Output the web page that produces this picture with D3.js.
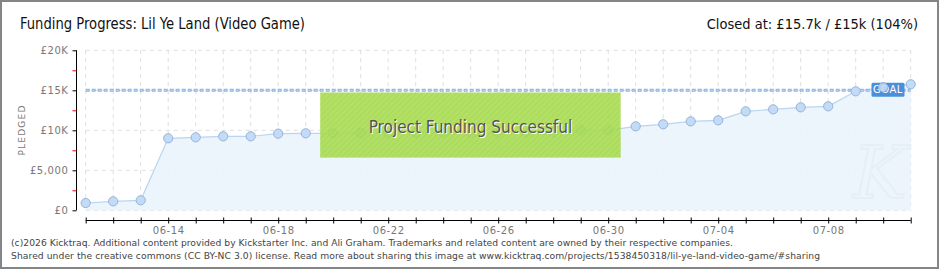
<!DOCTYPE html>
<html><head><meta charset="utf-8">
<script src="https://cdn.jsdelivr.net/npm/d3@7"></script>
<style>
html,body{margin:0;padding:0;background:#fff;}
svg{display:block;}
</style></head>
<body>
<svg id="chart" width="940" height="270"></svg>
<script>
// ---- data ----
const dates = ["06-11","06-12","06-13","06-14","06-15","06-16","06-17","06-18","06-19","06-20",
  "06-21","06-22","06-23","06-24","06-25","06-26","06-27","06-28","06-29","06-30",
  "07-01","07-02","07-03","07-04","07-05","07-06","07-07","07-08","07-09","07-10","07-11"];
const pledged = [910,1120,1250,9000,9120,9250,9250,9580,9620,9620,
  9700,9700,9700,9720,9620,9650,9700,9750,10000,10000,
  10500,10750,11120,11250,12370,12620,12870,13000,14870,15370,15750];
const goal = 15000;
const xTickLabels = ["06-14","06-18","06-22","06-26","06-30","07-04","07-08"];
const yTicks = [0,5000,10000,15000,20000];
const yTickLabels = ["£0","£5,000","£10K","£15K","£20K"];
const yMinorTicks = [2500,7500,12500,17500];
const title = "Funding Progress: Lil Ye Land (Video Game)";
const status = "Closed at: £15.7k / £15k (104%)";
const footer = ["(c)2026 Kicktraq. Additional content provided by Kickstarter Inc. and Ali Graham. Trademarks and related content are owned by their respective companies.",
  "Shared under the creative commons (CC BY-NC 3.0) license. Read more about sharing this image at www.kicktraq.com/projects/1538450318/lil-ye-land-video-game/#sharing"];

// ---- setup ----
const svg = d3.select("#chart");
const parse = s => new Date(Date.UTC(2026, +s.slice(0,2)-1, +s.slice(3,5)));
const data = dates.map((d,i)=>({date:parse(d), v:pledged[i]}));
const x = d3.scaleUtc().domain([data[0].date, data[data.length-1].date]).range([85.7, 910.7]);
const y = d3.scaleLinear().domain([0,20000]).range([210.3, 50.3]);
const fmt = d3.utcFormat("%m-%d");

// border
svg.append("rect").attr("x",1).attr("y",1).attr("width",937).attr("height",267)
  .attr("fill","#fff").attr("stroke","#858585").attr("stroke-width",2);

// defs: hatch pattern
const defs = svg.append("defs");
const pat = defs.append("pattern").attr("id","hatch").attr("width",4).attr("height",4)
  .attr("patternUnits","userSpaceOnUse").attr("patternTransform","rotate(45)");
pat.append("rect").attr("width",4).attr("height",4).attr("fill","#a9dd52");
pat.append("line").attr("x1",0).attr("y1",0).attr("x2",0).attr("y2",4)
  .attr("stroke","#9fd14a").attr("stroke-width",1.5);

// title
svg.append("text").attr("x",20).attr("y",29).text(title)
  .attr("font-family","'DejaVu Sans Condensed','Liberation Sans Narrow',sans-serif")
  .attr("font-size",15).attr("fill","#111")
  .attr("textLength",285).attr("lengthAdjust","spacingAndGlyphs");
svg.append("text").attr("x",918).attr("y",29).attr("text-anchor","end").text(status)
  .attr("font-family","'DejaVu Sans Condensed','Liberation Sans Narrow',sans-serif")
  .attr("font-size",14.5).attr("fill","#111");

// grid
const g = svg.append("g");
g.selectAll("line.vg").data(data).enter().append("line")
  .attr("x1",d=>x(d.date)).attr("x2",d=>x(d.date)).attr("y1",y(20000)).attr("y2",y(0))
  .attr("stroke","#dedede").attr("stroke-dasharray","4,4");
g.selectAll("line.hg").data(yTicks).enter().append("line")
  .attr("x1",x(data[0].date)).attr("x2",x(data[data.length-1].date))
  .attr("y1",d=>y(d)).attr("y2",d=>y(d))
  .attr("stroke","#dedede").attr("stroke-dasharray","4,4");

// area
const area = d3.area().x(d=>x(d.date)).y0(y(0)).y1(d=>y(d.v));
g.append("path").datum(data).attr("d",area).attr("fill","#eaf3fc").attr("opacity",0.9);

// watermark
svg.append("text").attr("x",880).attr("y",198).attr("text-anchor","middle")
  .attr("font-family","'DejaVu Serif',serif").attr("font-style","italic")
  .attr("font-size",72).attr("fill","none").attr("stroke","#e6eef8").attr("stroke-width",2).text("K");

const line = d3.line().x(d=>x(d.date)).y(d=>y(d.v));
g.append("path").datum(data).attr("d",line).attr("fill","none").attr("stroke","#b9d5f2").attr("stroke-width",1.2);

// goal line
svg.append("line").attr("x1",x(data[0].date)).attr("x2",x(data[data.length-1].date))
  .attr("y1",y(goal)).attr("y2",y(goal))
  .attr("stroke","#8fb4df").attr("stroke-width",3).attr("stroke-dasharray","4,2");
svg.append("line").attr("x1",x(data[0].date)+1).attr("x2",x(data[data.length-1].date))
  .attr("y1",y(goal)).attr("y2",y(goal))
  .attr("stroke","#c4dbf4").attr("stroke-width",1).attr("stroke-dasharray","2,4");

// points
svg.selectAll("circle.pt").data(data).enter().append("circle").attr("class","pt")
  .attr("cx",d=>x(d.date)).attr("cy",d=>y(d.v)).attr("r",4.6)
  .attr("fill","#c3dbf6").attr("stroke","#94b4d9").attr("stroke-width",1);

// goal label
const gx = x(parse("07-10")) - 11.7, gy = y(goal) - 7.5;
svg.append("rect").attr("x",gx).attr("y",gy).attr("width",33).attr("height",14).attr("rx",1.5)
  .attr("fill","#4a8fdb");
svg.append("text").attr("x",gx+16.5).attr("y",gy+10.5).attr("text-anchor","middle")
  .attr("font-family","'DejaVu Sans',sans-serif").attr("font-size",10).attr("letter-spacing",0.5)
  .attr("fill","#fff").text("GOAL");
svg.append("circle").attr("cx",x(parse("07-10"))).attr("cy",y(pledged[29])).attr("r",4.6)
  .attr("fill","#c3dbf6").attr("stroke","#94b4d9").attr("opacity",0.9);

// success box
const bx0 = x(parse("06-19")) + 14.5, bx1 = x(parse("06-30")) + 12.5;
svg.append("rect").attr("x",bx0).attr("y",92.5).attr("width",bx1-bx0).attr("height",65.5)
  .attr("fill","url(#hatch)").attr("opacity",0.9);
svg.append("line").attr("x1",bx0).attr("x2",bx1).attr("y1",157.5).attr("y2",157.5)
  .attr("stroke","#c5ea8a").attr("stroke-width",1.2);
const bt = svg.append("g");
bt.append("text").attr("x",(bx0+bx1)/2+1).attr("y",133.5).attr("text-anchor","middle")
  .attr("font-family","'DejaVu Sans Condensed',sans-serif").attr("font-size",17)
  .attr("fill","#fff").text("Project Funding Successful");
bt.append("text").attr("x",(bx0+bx1)/2).attr("y",132.5).attr("text-anchor","middle")
  .attr("font-family","'DejaVu Sans Condensed',sans-serif").attr("font-size",17)
  .attr("fill","#555").text("Project Funding Successful");

// y axis
const yAxis = d3.axisLeft(y).tickValues(yTicks).tickSize(4).tickPadding(4)
  .tickFormat((d,i)=>yTickLabels[i]);
const ya = svg.append("g").attr("transform","translate(76.5,0)").call(yAxis);
ya.select(".domain").attr("stroke","#000").attr("d",`M0,${y(20000)}V${y(0)}`);
ya.selectAll(".tick line").attr("stroke","#000");
ya.selectAll(".tick text").attr("fill","#777").attr("font-family","'DejaVu Sans',sans-serif")
  .attr("font-size",10).attr("letter-spacing",0.6);
ya.selectAll("line.minor").data(yMinorTicks).enter().append("line").attr("class","minor")
  .attr("x1",-4).attr("x2",0).attr("y1",d=>y(d)+0.5).attr("y2",d=>y(d)+0.5).attr("stroke","#e00000");
svg.append("text").attr("transform","translate(25,130) rotate(-90)").attr("text-anchor","middle")
  .attr("font-family","'DejaVu Sans',sans-serif").attr("font-size",9).attr("letter-spacing",1.2)
  .attr("fill","#777").text("PLEDGED");

// x axis
const xAxis = d3.axisBottom(x).tickValues(data.map(d=>d.date)).tickSize(0).tickPadding(8)
  .tickFormat(d=>xTickLabels.includes(fmt(d)) ? fmt(d) : "");
const xa = svg.append("g").attr("transform","translate(0,220.5)").call(xAxis);
xa.select(".domain").attr("stroke","#000").attr("d",`M${x(data[0].date)},0H${x(data[data.length-1].date)}`);
xa.selectAll(".tick").append("line").attr("y1",-3).attr("y2",3).attr("stroke","#000");
xa.selectAll(".tick text").attr("fill","#777").attr("font-family","'DejaVu Sans',sans-serif")
  .attr("font-size",10).attr("letter-spacing",0.6).attr("dy","0.55em");

// footer
const footLen = [722, 809];
svg.selectAll("text.foot").data(footer).enter().append("text").attr("class","foot")
  .attr("x",11).attr("y",(d,i)=>246+i*13).text(d=>d)
  .attr("font-family","'DejaVu Sans',sans-serif").attr("font-size",9.2).attr("fill","#444")
  .attr("textLength",(d,i)=>footLen[i]).attr("lengthAdjust","spacing");
</script>
</body></html>
